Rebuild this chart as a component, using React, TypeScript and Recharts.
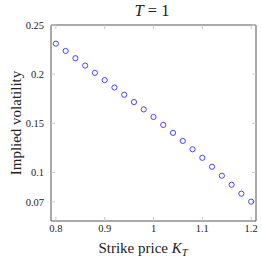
import {
  ScatterChart,
  Scatter,
  XAxis,
  YAxis,
} from "recharts";

const strikes = [
  0.8, 0.82, 0.84, 0.86, 0.88, 0.9, 0.92, 0.94, 0.96, 0.98, 1.0, 1.02, 1.04,
  1.06, 1.08, 1.1, 1.12, 1.14, 1.16, 1.18, 1.2,
];
const impliedVols = [
  0.231, 0.2236, 0.2162, 0.2087, 0.2013, 0.1939, 0.1864, 0.179, 0.1716,
  0.1641, 0.1564, 0.1483, 0.1402, 0.132, 0.1235, 0.1148, 0.1057, 0.0966,
  0.0874, 0.0783, 0.0702,
];
const xTicks = [0.8, 0.9, 1, 1.1, 1.2];
const yTicks = [0.07, 0.1, 0.15, 0.2, 0.25];

const data = strikes.map((k, i) => ({ k, vol: impliedVols[i] }));

const FONT = "'Liberation Serif', 'DejaVu Serif', serif";
const TEXT = "#222";
const FRAME = "#555";
const TICK = "#c8c8c8";

const HollowDot = (props: any) => {
  const { cx, cy } = props;
  if (cx == null || cy == null) return null;
  return <circle cx={cx} cy={cy} r={2.6} fill="none" stroke="#3333ff" strokeWidth={0.9} />;
};

// mirrored axes: tick marks only, no labels
const NoLabel = () => <g />;

export default function App() {
  return (
    <div style={{ position: "absolute", left: 0, top: 0, width: 262, height: 262, background: "#fff" }}>
      <ScatterChart
        width={262}
        height={262}
        margin={{ top: 24, right: 5, bottom: 21, left: 0 }}
      >
        <XAxis
          xAxisId="b"
          type="number"
          dataKey="k"
          domain={[0.79, 1.21]}
          ticks={xTicks}
          allowDataOverflow
          height={20}
          axisLine={{ stroke: FRAME, strokeWidth: 1 }}
          tickLine={{ stroke: TICK }}
          tickSize={-4}
          tick={{ fill: TEXT, fontSize: 10.5, fontFamily: FONT, dy: 6 }}
          label={{
            content: () => (
              <text x={143} y={253} textAnchor="middle" fontFamily={FONT} fontSize={15} fill={TEXT}>
                Strike price <tspan fontStyle="italic">K</tspan>
                <tspan fontStyle="italic" fontSize={10.5} dy={3}>T</tspan>
              </text>
            ),
          }}
        />
        <XAxis
          xAxisId="t"
          orientation="top"
          type="number"
          dataKey="k"
          domain={[0.79, 1.21]}
          ticks={xTicks}
          allowDataOverflow
          height={1}
          axisLine={{ stroke: FRAME, strokeWidth: 1 }}
          tickLine={{ stroke: TICK }}
          tickSize={-4}
          tick={NoLabel}
          label={{
            content: () => (
              <text x={152} y={16} textAnchor="middle" fontFamily={FONT} fontSize={16.5} fill={TEXT}>
                <tspan fontStyle="italic">T</tspan> = 1
              </text>
            ),
          }}
        />
        <YAxis
          yAxisId="l"
          type="number"
          dataKey="vol"
          domain={[0.0505, 0.25]}
          ticks={yTicks}
          allowDataOverflow
          width={51}
          axisLine={{ stroke: FRAME, strokeWidth: 1 }}
          tickLine={{ stroke: TICK }}
          tickSize={-4}
          tick={{ fill: TEXT, fontSize: 10.5, fontFamily: FONT, dx: -9 }}
          label={{
            content: () => (
              <text
                x={18}
                y={123}
                transform="rotate(-90 18 123)"
                textAnchor="middle"
                dominantBaseline="middle"
                fontFamily={FONT}
                fontSize={15}
                fill={TEXT}
              >
                Implied volatility
              </text>
            ),
          }}
        />
        <YAxis
          yAxisId="r"
          orientation="right"
          type="number"
          dataKey="vol"
          domain={[0.0505, 0.25]}
          ticks={yTicks}
          allowDataOverflow
          width={1}
          axisLine={{ stroke: FRAME, strokeWidth: 1 }}
          tickLine={{ stroke: TICK }}
          tickSize={-4}
          tick={NoLabel}
        />
        <Scatter
          data={data}
          xAxisId="b"
          yAxisId="l"
          shape={HollowDot}
          isAnimationActive={false}
        />
      </ScatterChart>
    </div>
  );
}
